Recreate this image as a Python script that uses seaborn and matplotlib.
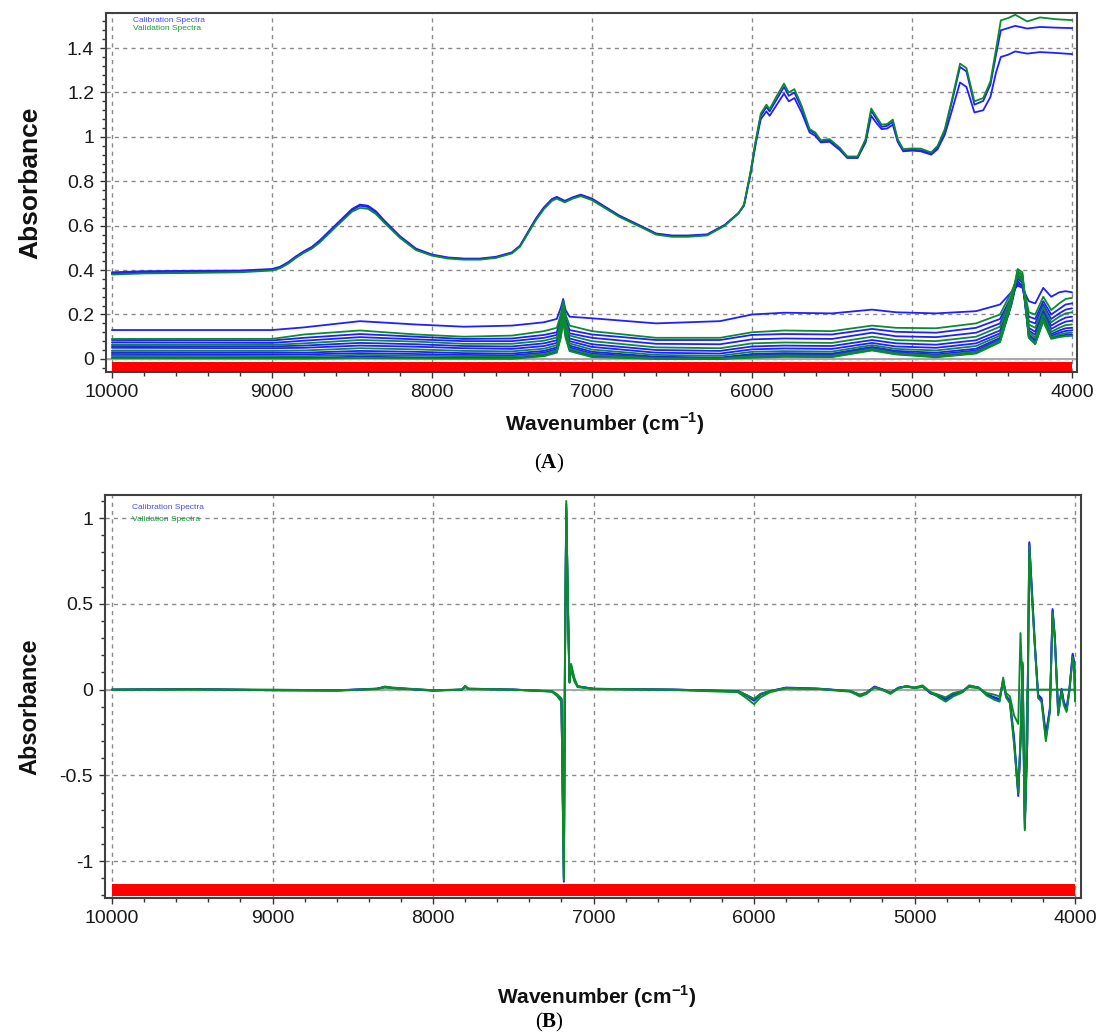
import matplotlib
matplotlib.use("Agg")
import matplotlib.pyplot as plt
import numpy as np
import pandas as pd
import seaborn as sns
from matplotlib.ticker import MultipleLocator, AutoMinorLocator, FuncFormatter

sns.set_theme(style="white")
plt.rcParams["font.family"] = ["Liberation Sans", "DejaVu Sans"]
plt.rcParams["mathtext.fontset"] = "custom"
plt.rcParams["mathtext.rm"] = "Liberation Sans:bold"
plt.rcParams["mathtext.bf"] = "Liberation Serif:bold"

# ---------------------------------------------------------------- raw spectra (A)
wn_high = [10000, 9800, 9500, 9200, 9000, 8950, 8900, 8850, 8800, 8750, 8700, 8600,
           8500, 8450, 8400, 8350, 8300, 8200, 8100, 8000, 7900, 7800, 7700, 7600,
           7500, 7450, 7400, 7350, 7300, 7250, 7220, 7170, 7120, 7070, 7000, 6830,
           6650, 6600, 6500, 6400, 6280, 6170, 6085, 6050, 6010, 5975, 5945, 5910,
           5890, 5845, 5800, 5770, 5735, 5690, 5640, 5605, 5570, 5515, 5450, 5405,
           5340, 5290, 5255, 5220, 5190, 5155, 5120, 5090, 5055, 5000, 4945, 4880,
           4840, 4795, 4750, 4700, 4660, 4610, 4555, 4510, 4475, 4445, 4400, 4355,
           4280, 4200, 4100, 4000]

val_high = [0.380, 0.385, 0.387, 0.390, 0.398, 0.408, 0.428, 0.455, 0.478, 0.497, 0.525, 0.595,
            0.663, 0.680, 0.676, 0.652, 0.615, 0.545, 0.490, 0.465, 0.452, 0.447, 0.447, 0.455,
            0.475, 0.505, 0.565, 0.625, 0.675, 0.712, 0.722, 0.705, 0.722, 0.733, 0.715, 0.640,
            0.578, 0.560, 0.550, 0.550, 0.556, 0.600, 0.655, 0.695, 0.840, 0.990, 1.105, 1.145,
            1.125, 1.185, 1.240, 1.200, 1.215, 1.140, 1.035, 1.020, 0.985, 0.990, 0.950, 0.912,
            0.912, 0.990, 1.128, 1.088, 1.055, 1.058, 1.078, 0.990, 0.945, 0.948, 0.947, 0.930,
            0.960, 1.035, 1.170, 1.330, 1.310, 1.160, 1.175, 1.250, 1.395, 1.525, 1.535, 1.550,
            1.520, 1.538, 1.530, 1.526]

cal_high_1 = [0.390, 0.395, 0.397, 0.398, 0.405, 0.415, 0.435, 0.462, 0.485, 0.505, 0.535, 0.605,
              0.675, 0.695, 0.690, 0.665, 0.625, 0.553, 0.497, 0.470, 0.457, 0.452, 0.452, 0.460,
              0.480, 0.510, 0.572, 0.633, 0.683, 0.720, 0.730, 0.712, 0.728, 0.740, 0.722, 0.646,
              0.583, 0.565, 0.556, 0.556, 0.561, 0.604, 0.657, 0.692, 0.835, 0.985, 1.095, 1.135,
              1.115, 1.170, 1.225, 1.185, 1.200, 1.130, 1.030, 1.015, 0.980, 0.985, 0.945, 0.908,
              0.908, 0.985, 1.118, 1.078, 1.045, 1.050, 1.068, 0.985, 0.940, 0.942, 0.940, 0.925,
              0.955, 1.028, 1.160, 1.315, 1.295, 1.145, 1.162, 1.235, 1.370, 1.480, 1.490, 1.500,
              1.488, 1.495, 1.492, 1.490]

cal_high_2 = [0.385, 0.390, 0.392, 0.394, 0.402, 0.412, 0.432, 0.458, 0.482, 0.500, 0.530, 0.600,
              0.670, 0.690, 0.684, 0.660, 0.620, 0.550, 0.494, 0.468, 0.455, 0.450, 0.450, 0.457,
              0.478, 0.508, 0.568, 0.630, 0.680, 0.718, 0.727, 0.708, 0.725, 0.737, 0.720, 0.644,
              0.582, 0.563, 0.553, 0.553, 0.559, 0.602, 0.655, 0.690, 0.830, 0.975, 1.080, 1.115,
              1.095, 1.145, 1.195, 1.160, 1.175, 1.110, 1.020, 1.005, 0.975, 0.978, 0.940, 0.905,
              0.905, 0.975, 1.095, 1.060, 1.035, 1.038, 1.055, 0.978, 0.935, 0.938, 0.935, 0.920,
              0.945, 1.010, 1.120, 1.245, 1.225, 1.110, 1.120, 1.180, 1.290, 1.360, 1.370, 1.385,
              1.375, 1.382, 1.378, 1.373]

wn_low = [10000, 9000, 8800, 8450, 8100, 7800, 7500, 7300, 7220, 7195, 7180, 7165,
          7140, 7000, 6600, 6200, 6000, 5800, 5500, 5250, 5100, 4850, 4600, 4450,
          4380, 4340, 4310, 4270, 4230, 4180, 4130, 4080, 4040, 4000]

cal_low_1 = [0.130, 0.130, 0.142, 0.170, 0.155, 0.145, 0.150, 0.165, 0.180, 0.230, 0.270, 0.220,
             0.190, 0.183, 0.160, 0.170, 0.200, 0.208, 0.205, 0.222, 0.210, 0.205, 0.215, 0.245,
             0.300, 0.330, 0.320, 0.260, 0.250, 0.320, 0.280, 0.300, 0.305, 0.300]
val_low_1 = [0.090, 0.090, 0.110, 0.128, 0.110, 0.100, 0.105, 0.125, 0.140, 0.200, 0.260, 0.200,
             0.150, 0.125, 0.095, 0.095, 0.120, 0.128, 0.125, 0.150, 0.140, 0.138, 0.160, 0.200,
             0.300, 0.370, 0.350, 0.210, 0.200, 0.280, 0.220, 0.250, 0.270, 0.275]
cal_low_2 = [0.085, 0.083, 0.095, 0.112, 0.100, 0.090, 0.092, 0.108, 0.120, 0.180, 0.245, 0.180,
             0.130, 0.110, 0.085, 0.085, 0.108, 0.112, 0.110, 0.135, 0.122, 0.118, 0.140, 0.180,
             0.280, 0.340, 0.325, 0.190, 0.180, 0.260, 0.200, 0.225, 0.245, 0.250]
cal_low_3 = [0.075, 0.072, 0.082, 0.098, 0.088, 0.080, 0.080, 0.095, 0.108, 0.170, 0.235, 0.170,
             0.115, 0.095, 0.068, 0.066, 0.088, 0.092, 0.090, 0.118, 0.102, 0.098, 0.118, 0.160,
             0.270, 0.350, 0.330, 0.170, 0.160, 0.245, 0.180, 0.205, 0.222, 0.228]
val_low_2 = [0.065, 0.063, 0.070, 0.085, 0.078, 0.068, 0.068, 0.082, 0.096, 0.165, 0.240, 0.165,
             0.105, 0.080, 0.052, 0.048, 0.070, 0.074, 0.072, 0.100, 0.085, 0.080, 0.100, 0.145,
             0.280, 0.380, 0.360, 0.155, 0.140, 0.235, 0.165, 0.190, 0.205, 0.210]
cal_low_4 = [0.058, 0.056, 0.060, 0.072, 0.066, 0.058, 0.056, 0.070, 0.084, 0.150, 0.220, 0.150,
             0.092, 0.066, 0.040, 0.036, 0.056, 0.060, 0.058, 0.085, 0.070, 0.064, 0.084, 0.128,
             0.260, 0.360, 0.345, 0.140, 0.122, 0.220, 0.150, 0.172, 0.186, 0.190]
cal_low_5 = [0.050, 0.048, 0.050, 0.060, 0.055, 0.048, 0.045, 0.058, 0.072, 0.140, 0.210, 0.140,
             0.080, 0.054, 0.028, 0.024, 0.043, 0.047, 0.045, 0.072, 0.056, 0.050, 0.070, 0.115,
             0.255, 0.370, 0.350, 0.128, 0.108, 0.210, 0.135, 0.155, 0.168, 0.172]
val_low_3 = [0.038, 0.036, 0.038, 0.048, 0.043, 0.036, 0.034, 0.046, 0.062, 0.135, 0.215, 0.135,
             0.070, 0.042, 0.018, 0.014, 0.032, 0.035, 0.033, 0.062, 0.045, 0.038, 0.058, 0.105,
             0.265, 0.395, 0.380, 0.120, 0.095, 0.200, 0.122, 0.140, 0.152, 0.155]
cal_low_6 = [0.030, 0.028, 0.028, 0.036, 0.032, 0.026, 0.024, 0.036, 0.052, 0.125, 0.200, 0.125,
             0.060, 0.032, 0.010, 0.006, 0.022, 0.026, 0.024, 0.054, 0.036, 0.028, 0.046, 0.095,
             0.250, 0.380, 0.365, 0.110, 0.085, 0.190, 0.112, 0.128, 0.138, 0.140]
cal_low_7 = [0.022, 0.020, 0.020, 0.026, 0.022, 0.018, 0.016, 0.028, 0.044, 0.115, 0.190, 0.115,
             0.052, 0.024, 0.005, 0.003, 0.016, 0.020, 0.018, 0.048, 0.030, 0.020, 0.038, 0.088,
             0.245, 0.375, 0.360, 0.104, 0.078, 0.182, 0.104, 0.118, 0.126, 0.128]
val_low_4 = [0.015, 0.013, 0.012, 0.018, 0.015, 0.012, 0.010, 0.022, 0.038, 0.110, 0.195, 0.110,
             0.045, 0.018, 0.003, 0.002, 0.012, 0.016, 0.014, 0.045, 0.026, 0.015, 0.032, 0.083,
             0.255, 0.405, 0.390, 0.100, 0.072, 0.178, 0.098, 0.110, 0.116, 0.118]
cal_low_8 = [0.008, 0.006, 0.005, 0.010, 0.007, 0.005, 0.004, 0.016, 0.032, 0.100, 0.180, 0.100,
             0.040, 0.012, 0.001, 0.000, 0.008, 0.012, 0.010, 0.040, 0.022, 0.010, 0.027, 0.078,
             0.240, 0.365, 0.350, 0.096, 0.068, 0.172, 0.094, 0.104, 0.108, 0.110]
val_low_5 = [0.003, 0.002, 0.001, 0.004, 0.002, 0.001, 0.000, 0.012, 0.028, 0.095, 0.175, 0.095,
             0.035, 0.008, 0.000, 0.000, 0.005, 0.009, 0.008, 0.038, 0.020, 0.007, 0.024, 0.075,
             0.250, 0.390, 0.375, 0.095, 0.066, 0.170, 0.090, 0.098, 0.102, 0.104]

# -------------------------------------------------------- derivative spectra (B)
wn_deriv = [10000, 9500, 9000, 8600, 8350, 8300, 8250, 8000, 7820, 7800,
            7780, 7500, 7260, 7230, 7200, 7185, 7178, 7170, 7160, 7150,
            7140, 7120, 7100, 7000, 6500, 6100, 6040, 6000, 5960, 5900,
            5800, 5600, 5400, 5340, 5300, 5250, 5200, 5150, 5100, 5050,
            5000, 4950, 4900, 4850, 4806, 4760, 4700, 4660, 4600, 4550,
            4500, 4470, 4448, 4430, 4406, 4380, 4354, 4340, 4327, 4313,
            4298, 4285, 4271, 4250, 4230, 4209, 4182, 4157, 4140, 4126,
            4105, 4084, 4070, 4053, 4035, 4015, 4005, 4000]

cal_deriv_1 = [0.000, 0.003, -0.003, -0.005, 0.005, 0.015, 0.010, -0.005, 0.000, 0.020,
               0.005, 0.000, -0.010, -0.030, -0.060, -1.120, 0.200, 1.060, 0.500, 0.050,
               0.140, 0.060, 0.020, 0.005, 0.000, -0.010, -0.040, -0.065, -0.030, -0.010,
               0.010, 0.005, -0.010, -0.035, -0.020, 0.015, 0.000, -0.020, 0.010, 0.020,
               0.010, 0.020, -0.020, -0.040, -0.060, -0.030, -0.010, 0.020, 0.010, -0.030,
               -0.050, -0.060, 0.060, -0.040, -0.070, -0.300, -0.620, -0.300, 0.150, -0.780,
               -0.300, 0.860, 0.600, 0.250, -0.040, -0.060, -0.280, -0.120, 0.470, 0.300,
               -0.140, 0.000, -0.080, -0.120, 0.000, 0.200, 0.150, -0.060]
cal_deriv_2 = [0.000, 0.004, -0.004, -0.004, 0.006, 0.016, 0.009, -0.006, 0.000, 0.018,
               0.006, 0.000, -0.010, -0.028, -0.055, -1.100, 0.180, 1.040, 0.480, 0.045,
               0.130, 0.055, 0.018, 0.005, 0.000, -0.008, -0.035, -0.055, -0.025, -0.008,
               0.012, 0.006, -0.008, -0.030, -0.018, 0.018, 0.002, -0.018, 0.012, 0.018,
               0.012, 0.018, -0.022, -0.035, -0.055, -0.025, -0.008, 0.022, 0.012, -0.028,
               -0.045, -0.055, 0.050, -0.035, -0.065, -0.280, -0.600, -0.320, 0.140, -0.810,
               -0.320, 0.850, 0.620, 0.260, -0.030, -0.050, -0.260, -0.110, 0.460, 0.310,
               -0.130, 0.005, -0.070, -0.110, 0.005, 0.210, 0.160, -0.050]
val_deriv_1 = [0.000, 0.002, -0.002, -0.006, 0.004, 0.018, 0.012, -0.004, 0.000, 0.022,
               0.004, 0.000, -0.012, -0.035, -0.070, -1.110, 0.250, 1.100, 0.520, 0.060,
               0.150, 0.070, 0.020, 0.004, -0.002, -0.015, -0.055, -0.085, -0.045, -0.015,
               0.008, 0.004, -0.012, -0.040, -0.025, 0.012, -0.002, -0.025, 0.008, 0.022,
               0.012, 0.025, -0.015, -0.045, -0.070, -0.040, -0.015, 0.025, 0.012, -0.035,
               -0.060, -0.070, 0.070, -0.045, -0.080, -0.320, -0.600, -0.280, 0.160, -0.760,
               -0.280, 0.840, 0.580, 0.240, -0.050, -0.070, -0.300, -0.130, 0.450, 0.290,
               -0.150, -0.010, -0.090, -0.130, -0.010, 0.190, 0.140, -0.070]
val_deriv_2 = [0.000, 0.000, 0.000, -0.004, 0.003, 0.012, 0.008, -0.003, 0.000, 0.015,
               0.003, 0.000, -0.008, -0.025, -0.050, -1.100, 0.150, 1.080, 0.480, 0.040,
               0.120, 0.050, 0.015, 0.003, 0.000, -0.010, -0.035, -0.055, -0.025, -0.008,
               0.008, 0.004, -0.008, -0.030, -0.018, 0.012, 0.000, -0.018, 0.008, 0.018,
               0.008, 0.016, -0.015, -0.030, -0.045, -0.020, -0.008, 0.015, 0.008, -0.020,
               -0.030, -0.040, 0.040, -0.020, -0.040, -0.150, -0.200, 0.330, 0.000, -0.820,
               0.000, 0.000, 0.000, 0.000, 0.000, 0.000, 0.000, 0.000, 0.000, 0.000,
               0.000, 0.000, 0.000, 0.000, 0.000, 0.000, 0.000, 0.000]

# selected spectral region (red band under each plot)
region_wn = [10000, 4000]
region_band_a = [-0.055, -0.014]
region_band_b = [-1.205, -1.135]

legend_labels = ["Calibration Spectra", "Validation Spectra"]

BLUE = "#1f1fff"
GREEN = "#0a8c2c"
palette = {"Calibration": BLUE, "Validation": GREEN}


def long_frame(wn, curves):
    parts = []
    for name, group, vals in curves:
        parts.append(pd.DataFrame({"wn": wn, "value": vals,
                                   "spectrum": name, "set": group}))
    return pd.concat(parts, ignore_index=True)


raw_df = pd.concat([
    long_frame(wn_low, [
        ("c1", "Calibration", cal_low_1), ("c2", "Calibration", cal_low_2),
        ("c3", "Calibration", cal_low_3), ("c4", "Calibration", cal_low_4),
        ("c5", "Calibration", cal_low_5), ("c6", "Calibration", cal_low_6),
        ("c7", "Calibration", cal_low_7), ("c8", "Calibration", cal_low_8),
        ("v1", "Validation", val_low_1), ("v2", "Validation", val_low_2),
        ("v3", "Validation", val_low_3), ("v4", "Validation", val_low_4),
        ("v5", "Validation", val_low_5)]),
    long_frame(wn_high, [
        ("ch1", "Calibration", cal_high_1), ("ch2", "Calibration", cal_high_2),
        ("vh1", "Validation", val_high)]),
], ignore_index=True)

deriv_df = long_frame(wn_deriv, [
    ("c1", "Calibration", cal_deriv_1), ("c2", "Calibration", cal_deriv_2),
    ("v1", "Validation", val_deriv_1), ("v2", "Validation", val_deriv_2)])

fig = plt.figure(figsize=(10.99, 10.34), dpi=100)
axA = fig.add_axes([106 / 1099, 1 - 372 / 1034, 971 / 1099, 359 / 1034])
axB = fig.add_axes([105 / 1099, 1 - 898 / 1034, 976 / 1099, 403 / 1034])

grid_kw = dict(color="#8a8a8a", linestyle=(0, (3, 3)), linewidth=1.0)


def style_axis(ax, band, xlim, ylim, ymajor, yminor):
    ax.fill_between(region_wn, band[0], band[1], color="#ff0000", lw=0, zorder=1)
    ax.axhline(0, color="#a8a8a8", lw=1.4, zorder=1.5)
    ax.set_xlim(*xlim)
    ax.set_ylim(*ylim)
    ax.xaxis.set_major_locator(MultipleLocator(1000))
    ax.xaxis.set_minor_locator(MultipleLocator(200))
    ax.yaxis.set_major_locator(MultipleLocator(ymajor))
    ax.yaxis.set_minor_locator(MultipleLocator(yminor))
    ax.xaxis.set_major_formatter(FuncFormatter(lambda v, p: f"{v:g}"))
    ax.yaxis.set_major_formatter(FuncFormatter(lambda v, p: f"{round(v, 3):g}"))
    ax.grid(True, which="major", **grid_kw)
    ax.set_axisbelow(True)
    ax.tick_params(axis="both", which="major", direction="out", length=4.5, width=1,
                   color="#333333", labelsize=14, labelcolor="#1a1a1a", pad=4,
                   bottom=True, left=True)
    ax.tick_params(axis="both", which="minor", direction="out", length=3, width=1,
                   color="#333333", bottom=True, left=True)
    for s in ax.spines.values():
        s.set_color("#404040")
        s.set_linewidth(1.5)
    ax.set_xlabel("")
    ax.set_ylabel("")


sns.lineplot(data=raw_df, x="wn", y="value", hue="set", units="spectrum",
             estimator=None, sort=False, palette=palette, linewidth=1.3,
             legend=False, ax=axA, zorder=3)
style_axis(axA, region_band_a, (10037, 3969), (-0.059, 1.558), 0.2, 0.04)

sns.lineplot(data=deriv_df, x="wn", y="value", hue="set", units="spectrum",
             estimator=None, sort=False, palette=palette, linewidth=1.4,
             legend=False, ax=axB, zorder=3)
style_axis(axB, region_band_b, (10044, 3963), (-1.215, 1.135), 0.5, 0.1)

for ax, ys in ((axA, (0.980, 0.958)), (axB, (0.970, 0.940))):
    ax.text(0.028, ys[0], legend_labels[0], transform=ax.transAxes, color="#4a4aff",
            fontsize=6, va="center", ha="left")
    ax.text(0.028, ys[1], legend_labels[1], transform=ax.transAxes, color="#1a9a3a",
            fontsize=6, va="center", ha="left")

fig.text(30 / 1099, 1 - 183 / 1034, "Absorbance", rotation=90, fontsize=19,
         fontweight="bold", ha="center", va="center", color="#111111")
fig.text(30 / 1099, 1 - 707 / 1034, "Absorbance", rotation=90, fontsize=17,
         fontweight="bold", ha="center", va="center", color="#111111")
fig.text(605 / 1099, 1 - 424 / 1034, r"Wavenumber (cm$^{\mathrm{-1}}$)", fontsize=15,
         fontweight="bold", ha="center", va="center", color="#111111")
fig.text(597 / 1099, 1 - 997 / 1034, r"Wavenumber (cm$^{\mathrm{-1}}$)", fontsize=15,
         fontweight="bold", ha="center", va="center", color="#111111")
fig.text(549 / 1099, 1 - 463 / 1034, r"($\mathbf{A}$)", family="Liberation Serif",
         fontsize=15, ha="center", va="center", color="#000000")
fig.text(549 / 1099, 1 - 1022 / 1034, r"($\mathbf{B}$)", family="Liberation Serif",
         fontsize=15, ha="center", va="center", color="#000000")

fig.savefig("out.png", dpi=100, facecolor="white")
